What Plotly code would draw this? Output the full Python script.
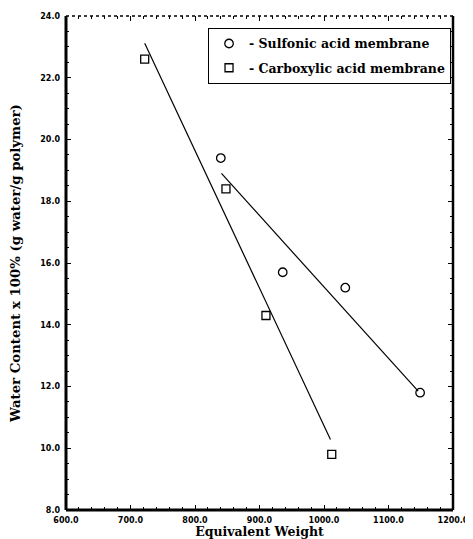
import plotly.graph_objects as go

# Data
sulf_x = [840, 936, 1033, 1149]
sulf_y = [19.4, 15.7, 15.2, 11.8]
carb_x = [722, 848, 910, 1012]
carb_y = [22.6, 18.4, 14.3, 9.8]
# fitted lines (endpoints)
sulf_fit_x = [841, 1146]
sulf_fit_y = [18.9, 11.85]
carb_fit_x = [722, 1010]
carb_fit_y = [23.12, 10.28]

x_ticks = [600, 700, 800, 900, 1000, 1100, 1200]
y_ticks = [8, 10, 12, 14, 16, 18, 20, 22, 24]

serif = "DejaVu Serif"
fig = go.Figure()
fig.add_trace(go.Scatter(x=sulf_fit_x, y=sulf_fit_y, mode="lines",
                         line=dict(color="black", width=1.2), showlegend=False))
fig.add_trace(go.Scatter(x=carb_fit_x, y=carb_fit_y, mode="lines",
                         line=dict(color="black", width=1.2), showlegend=False))
fig.add_trace(go.Scatter(x=sulf_x, y=sulf_y, mode="markers", name="- Sulfonic acid membrane",
                         legendgroup="s",
                         marker=dict(symbol="circle-open", size=8.5, color="black",
                                     line=dict(width=1.3))))
fig.add_trace(go.Scatter(x=carb_x, y=carb_y, mode="markers", name="- Carboxylic acid membrane",
                         legendgroup="c",
                         marker=dict(symbol="square-open", size=8, color="black",
                                     line=dict(width=1.3))))

axis_common = dict(showline=False, zeroline=False, showgrid=False, mirror="ticks",
                   ticks="inside", ticklen=5, tickwidth=1, tickcolor="black",
                   tickformat=".1f", automargin=False,
                   tickfont=dict(family="DejaVu Sans", size=8, color="black", weight="bold"))

# page body has an 8px margin, so the figure is shifted by 8px
fig.update_layout(
    width=465, height=531,
    margin=dict(l=58, r=20, t=8, b=29),
    plot_bgcolor="white", paper_bgcolor="white",
    font=dict(family=serif, color="black"),
    xaxis=dict(range=[600, 1200], tickvals=x_ticks, ticklabelstandoff=4,
               minor=dict(dtick=20, ticks="inside", ticklen=3, tickcolor="black"),
               title=dict(text="Equivalent Weight", standoff=1,
                          font=dict(family=serif, size=12.5, weight="bold")),
               **axis_common),
    yaxis=dict(range=[8, 24], tickvals=y_ticks, ticklabelstandoff=5,
               minor=dict(dtick=0.5, ticks="inside", ticklen=3, tickcolor="black"),
               title=dict(text="Water Content x 100% (g water/g polymer)", standoff=16,
                          font=dict(family=serif, size=13.3, weight="bold")),
               **axis_common),
    legend=dict(x=0.367, y=0.976, xanchor="left", yanchor="top",
                bordercolor="black", borderwidth=1, bgcolor="white",
                font=dict(family=serif, size=12.5, weight="bold"),
                itemwidth=30, traceorder="grouped", tracegroupgap=5),
    shapes=[
        dict(type="line", xref="paper", yref="paper", x0=0, x1=0, y0=0, y1=1,
             line=dict(color="black", width=3)),
        dict(type="line", xref="paper", yref="paper", x0=0, x1=1, y0=0, y1=0,
             line=dict(color="black", width=3)),
        dict(type="line", xref="paper", yref="paper", x0=1, x1=1, y0=0, y1=1,
             line=dict(color="black", width=2.5)),
        dict(type="line", xref="paper", yref="paper", x0=0, x1=1, y0=1, y1=1,
             line=dict(color="black", width=1.5, dash="dot")),
    ],
)
fig.write_html("out.html")
